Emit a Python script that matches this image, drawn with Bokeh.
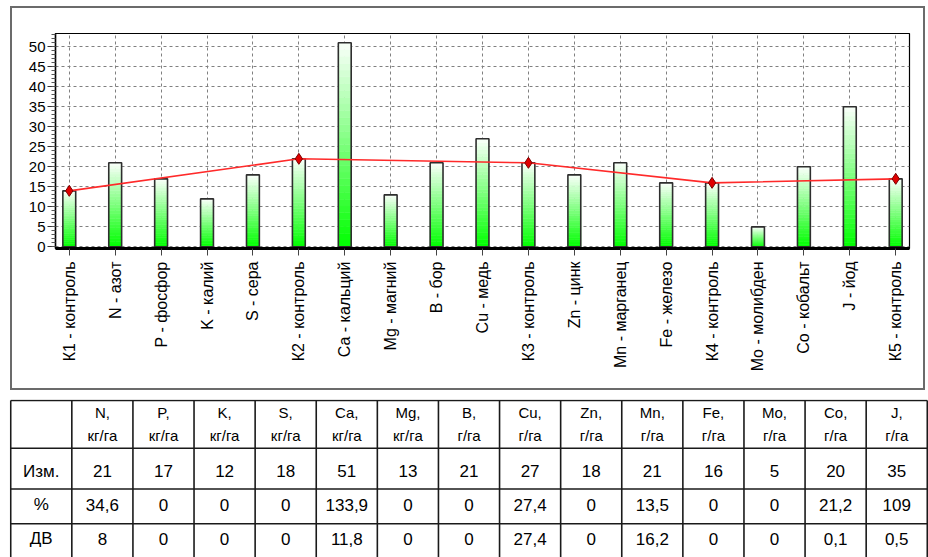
import numpy as np
from bokeh.plotting import figure
from bokeh.models import Range1d, FixedTicker, SingleIntervalTicker, InlineStyleSheet
from bokeh.core.properties import value
from bokeh.embed import file_html
from bokeh.resources import INLINE

# ---------------- data ----------------
categories = ["К1 - контроль", "N - азот", "P - фосфор", "K - калий", "S - сера",
              "К2 - контроль", "Ca - кальций", "Mg - магний", "B - бор", "Cu - медь",
              "К3 - контроль", "Zn - цинк", "Mn - марганец", "Fe - железо",
              "К4 - контроль", "Mo - молибден", "Co - кобальт", "J - йод", "К5 - контроль"]
values = [14, 21, 17, 12, 18, 22, 51, 13, 21, 27, 21, 18, 21, 16, 16, 5, 20, 35, 17]

elements = ["N", "P", "K", "S", "Ca", "Mg", "B", "Cu", "Zn", "Mn", "Fe", "Mo", "Co", "J"]
units = ["кг/га"] * 6 + ["г/га"] * 8
row_labels = ["Изм.", "%", "ДВ"]
measured = ["21", "17", "12", "18", "51", "13", "21", "27", "18", "21", "16", "5", "20", "35"]
percent = ["34,6", "0", "0", "0", "133,9", "0", "0", "27,4", "0", "13,5", "0", "0", "21,2", "109"]
dv = ["8", "0", "0", "0", "11,8", "0", "0", "27,4", "0", "16,2", "0", "0", "0,1", "0,5"]

FONT = "Liberation Sans"

# ---------------- chart ----------------
p = figure(width=928, height=394, x_range=Range1d(-0.3, 18.3), y_range=Range1d(-0.4, 53.3),
           output_backend="svg", toolbar_location=None,
           min_border_left=55, min_border_right=19, min_border_top=33, min_border_bottom=146)

# outer frame around the chart panel (drawn as a host pseudo-element)
p.stylesheets = [InlineStyleSheet(css="""
:host { position: relative; }
:host::after {
  content: ""; position: absolute; left: 10px; top: 6px; width: 911px; height: 380px;
  border: 2px solid #6b6b6b; pointer-events: none; z-index: 10;
}
""")]

xs = list(range(len(categories)))

# gradient bars (white top -> green bottom)
NS = 30
gx, gb, gt, gc = [], [], [], []
for i, v in zip(xs, values):
    for k in range(NS):
        f = (k + 0.5) / NS
        r = int(round(250 * f))
        b = int(round(250 * f))
        gx.append(i)
        gb.append(v * k / NS)
        gt.append(v * (k + 1) / NS)
        gc.append("#%02x%02x%02x" % (r, 255, b))
BW = 0.28
p.vbar(x=gx, bottom=gb, top=gt, width=BW, fill_color=gc, line_color=gc, line_width=0.6)
p.vbar(x=xs, top=values, bottom=0, width=BW, fill_color=None, line_color="#2e2e2e", line_width=1.6)

# control line
ctrl_x = [i for i, c in zip(xs, categories) if "контроль" in c]
ctrl_y = [values[i] for i in ctrl_x]
p.line(ctrl_x, ctrl_y, line_color="#ff2a2a", line_width=1.6)
p.scatter(ctrl_x, ctrl_y, marker="diamond", size=11, fill_color="#e00000", line_color="#7a0000", line_width=1)

# axes
p.xaxis.ticker = FixedTicker(ticks=xs)
p.xaxis.major_label_overrides = {i: c for i, c in zip(xs, categories)}
p.xaxis.major_label_orientation = np.pi / 2
p.xaxis.major_label_text_font = FONT
p.xaxis.major_label_text_font_size = "16px"
p.xaxis.major_label_text_color = "black"
p.xaxis.axis_line_width = 3
p.xaxis.axis_line_color = "black"
p.xaxis.major_tick_out = 7
p.xaxis.major_tick_in = 0
p.xaxis.major_tick_line_color = "#444444"
p.xaxis.minor_tick_line_color = None
p.xaxis.major_label_standoff = 6

p.yaxis.ticker = SingleIntervalTicker(interval=5, num_minor_ticks=5)
p.yaxis.major_label_text_font = FONT
p.yaxis.major_label_text_font_size = "15px"
p.yaxis.major_label_text_color = "black"
p.yaxis.axis_line_color = "black"
p.yaxis.axis_line_width = 1.5
p.yaxis.major_tick_out = 8
p.yaxis.major_tick_in = 0
p.yaxis.minor_tick_out = 4
p.yaxis.minor_tick_in = 0
p.yaxis.major_tick_line_color = "#333333"
p.yaxis.minor_tick_line_color = "#555555"
p.yaxis.major_label_standoff = 2

p.grid.grid_line_color = "#808080"
p.grid.grid_line_dash = "3 3"
p.grid.grid_line_width = 1
p.outline_line_color = "black"
p.outline_line_width = 1.2

# ---------------- table ----------------
t = figure(width=928, height=163, x_range=Range1d(-0.02, 15.02), y_range=Range1d(158, -1),
           output_backend="svg", toolbar_location=None,
           x_axis_location=None, y_axis_location=None,
           min_border_left=9, min_border_right=0, min_border_top=5, min_border_bottom=0)
t.grid.visible = False
t.outline_line_color = None

row_edges = [0, 48, 89, 124, 170]
ncol = len(elements) + 1
t.segment(x0=list(range(ncol + 1)), x1=list(range(ncol + 1)), y0=[0] * (ncol + 1), y1=[170] * (ncol + 1),
          line_color="#1a1a1a", line_width=1.6)
t.segment(x0=[0] * len(row_edges), x1=[ncol] * len(row_edges), y0=row_edges, y1=row_edges,
          line_color="#1a1a1a", line_width=1.6)

cx = [j + 1.5 for j in range(len(elements))]
t.text(x=cx, y=[12] * len(cx), text=[e + "," for e in elements], text_align="center",
       text_baseline="middle", text_font=value(FONT), text_font_size="15px", text_color="black")
t.text(x=cx, y=[35] * len(cx), text=units, text_align="center",
       text_baseline="middle", text_font=value(FONT), text_font_size="15px", text_color="black")

row_y = [71, 105, 139]
t.text(x=[0.5] * 3, y=row_y, text=row_labels, text_align="center", text_baseline="middle",
       text_font=value(FONT), text_font_size="17px", text_color="black")
for ry, vals in zip(row_y, [measured, percent, dv]):
    t.text(x=cx, y=[ry] * len(cx), text=vals, text_align="center", text_baseline="middle",
           text_font=value(FONT), text_font_size="17px", text_color="black")

open("out.html", "w").write(file_html([p, t], INLINE))
